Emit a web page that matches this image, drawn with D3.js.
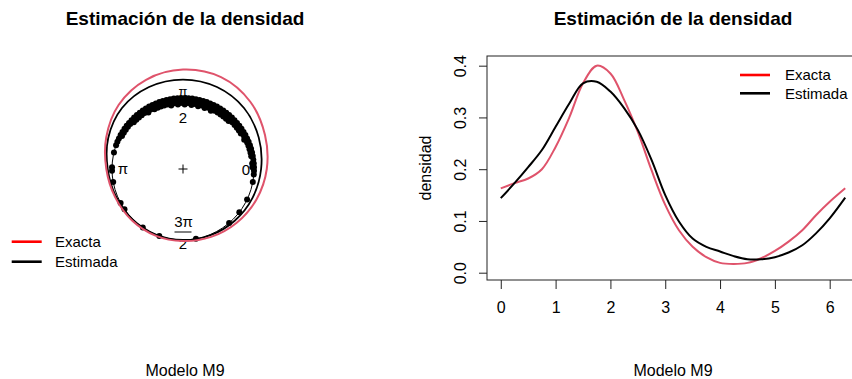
<!DOCTYPE html>
<html>
<head>
<meta charset="utf-8">
<script src="https://cdn.jsdelivr.net/npm/d3@7"></script>
<style>
  html, body { margin: 0; padding: 0; background: #fff; }
  svg { display: block; font-family: "Liberation Sans", Arial, Helvetica, sans-serif; }
</style>
</head>
<body>
<svg id="fig" width="852" height="379"></svg>
<script>
// ---- Data ----------------------------------------------------------------
const titulo = "Estimación de la densidad";
const subtitulo = "Modelo M9";
const series = ["Exacta", "Estimada"];

// Densities on [0, 2π] (linear panel)
const xGrid = [0, 0.25, 0.5, 0.75, 1.0, 1.25, 1.5, 1.75, 2.0, 2.25, 2.5, 2.75, 3.0,
               3.25, 3.5, 3.75, 4.0, 4.25, 4.5, 4.75, 5.0, 5.25, 5.5, 5.75, 6.0, 2 * Math.PI];
const densExacta = [0.163, 0.173, 0.182, 0.200, 0.243, 0.300, 0.366, 0.400, 0.385, 0.334,
                    0.272, 0.198, 0.131, 0.082, 0.050, 0.030, 0.019, 0.017, 0.019, 0.028,
                    0.042, 0.060, 0.082, 0.111, 0.137, 0.163];
const densEstimada = [0.144, 0.173, 0.204, 0.237, 0.282, 0.327, 0.366, 0.369, 0.350, 0.318,
                      0.276, 0.218, 0.150, 0.099, 0.066, 0.050, 0.041, 0.032, 0.026, 0.026,
                      0.030, 0.039, 0.053, 0.076, 0.105, 0.145];
const xTicks = [0, 1, 2, 3, 4, 5, 6];
const yTicks = [0.0, 0.1, 0.2, 0.3, 0.4];

// Circular panel: density drawn as offset above the unit circle
const angGrados = [0, 22.5, 45, 67.5, 90, 112.5, 135, 157.5, 180, 202.5, 225, 247.5, 270, 292.5, 315, 337.5];
const circExacta = [0.18, 0.25, 0.34, 0.40, 0.40, 0.36, 0.28, 0.17, 0.08, 0.035, 0.02, 0.015, 0.015, 0.035, 0.07, 0.12];
const circEstimada = [0.10, 0.155, 0.215, 0.25, 0.26, 0.25, 0.215, 0.14, 0.06, 0.02, 0.005, 0.0, 0.0, 0.01, 0.03, 0.06];

// Sample counts in 3-degree bins (stacked points on the circle)
const frecuencias = [
  2,2,1,2,2,2,2,2,3,2,3,3,
  3,3,3,4,4,4,4,4,4,5,4,5,
  4,5,4,5,4,5,4,5,4,5,4,4,
  4,4,4,3,4,3,3,3,3,3,2,2,
  2,2,2,1,1,1,0,1,0,0,0,1,
  1,0,0,1,0,0,0,0,0,1,0,1,
  0,0,0,0,0,0,1,0,0,0,0,1,
  0,0,0,0,0,0,0,0,0,1,0,0,
  0,0,0,0,0,0,0,1,0,0,0,1,
  0,0,0,1,0,0,0,0,1,0,1,1
];
const anchoBin = 3;

const colExacta = "#DF536B", colEstimada = "#000000";
const colLeyenda = ["#FF0000", "#000000"];

// ---- Drawing -------------------------------------------------------------
const svg = d3.select("#fig");
const FS = 16, FSLEG = 15;

// ---------- Left panel: circular plot ----------
const cx = 183, cy = 169;
const rUnit = d3.scaleLinear().domain([0, 1]).range([0, 71]);
const left = svg.append("g");

left.append("text").attr("x", 185).attr("y", 18).attr("dy", "0.35em")
  .attr("text-anchor", "middle").attr("font-weight", "bold").attr("font-size", 19)
  .text(titulo);
left.append("text").attr("x", 185).attr("y", 370).attr("dy", "0.35em")
  .attr("text-anchor", "middle").attr("font-size", 16).text(subtitulo);

const polar = left.append("g").attr("transform", `translate(${cx},${cy})`);
// unit circle
polar.append("circle").attr("r", rUnit(1)).attr("fill", "none").attr("stroke", "#000").attr("stroke-width", 1);
// centre mark
polar.append("path").attr("d", "M-4.5,0H4.5M0,-4.5V4.5").attr("stroke", "#000").attr("stroke-width", 1);

// stacked sample points
const puntos = [];
frecuencias.forEach((n, i) => {
  const th = (i * anchoBin + anchoBin / 2) * Math.PI / 180;
  for (let j = 0; j < n; j++) puntos.push({ th, r: 1 - j * 0.0225 });
});
polar.selectAll("circle.pt").data(puntos).join("circle").attr("class", "pt")
  .attr("cx", d => rUnit(d.r) * Math.cos(d.th))
  .attr("cy", d => -rUnit(d.r) * Math.sin(d.th))
  .attr("r", 3).attr("fill", "#000");

// axis labels (0, π/2, π, 3π/2)
function lbl(x, y, t, size) {
  polar.append("text").attr("x", x).attr("y", y).attr("dy", "0.35em")
    .attr("text-anchor", "middle").attr("font-size", size || 15).text(t);
}
lbl(63, 1, "0");
lbl(-60, 0, "π");
lbl(0, -78, "π", 13);
polar.append("line").attr("x1", -5).attr("x2", 5).attr("y1", -64).attr("y2", -64).attr("stroke", "#000");
lbl(0, -51.5, "2");
lbl(0.5, 53, "3π");
polar.append("line").attr("x1", -8.5).attr("x2", 8.5).attr("y1", 63).attr("y2", 63).attr("stroke", "#000");
lbl(0, 75, "2");

// circular density curves
const radial = vals => d3.lineRadial()
  .angle((d, i) => Math.PI / 2 - angGrados[i] * Math.PI / 180)
  .radius(d => rUnit(1 + d))
  .curve(d3.curveCatmullRomClosed)(vals);
polar.append("path").attr("d", radial(circEstimada)).attr("fill", "none").attr("stroke", colEstimada).attr("stroke-width", 1.8);
polar.append("path").attr("d", radial(circExacta)).attr("fill", "none").attr("stroke", colExacta).attr("stroke-width", 2);

// left legend
const legL = left.append("g");
series.forEach((s, i) => {
  const y = 241.7 + i * 20;
  legL.append("line").attr("x1", 11.7).attr("x2", 41.7).attr("y1", y).attr("y2", y)
    .attr("stroke", colLeyenda[i]).attr("stroke-width", 2.6);
  legL.append("text").attr("x", 55).attr("y", y).attr("dy", "0.35em").attr("font-size", FSLEG).text(s);
});

// ---------- Right panel: linear plot ----------
const plotL = 487, plotR = 859, plotT = 56, plotB = 280;
const span = 2 * Math.PI;
const x = d3.scaleLinear().domain([-0.04 * span, 1.04 * span]).range([plotL, plotR]);
const y = d3.scaleLinear().domain([-0.0141, 0.4187]).range([plotB, plotT]);
const right = svg.append("g");

right.append("text").attr("x", (plotL + plotR) / 2).attr("y", 18).attr("dy", "0.35em")
  .attr("text-anchor", "middle").attr("font-weight", "bold").attr("font-size", 19).text(titulo);
right.append("text").attr("x", (plotL + plotR) / 2).attr("y", 370).attr("dy", "0.35em")
  .attr("text-anchor", "middle").attr("font-size", 16).text(subtitulo);
right.append("text").attr("transform", `translate(425,${(plotT + plotB) / 2}) rotate(-90)`)
  .attr("dy", "0.35em").attr("text-anchor", "middle").attr("font-size", FS).text("densidad");

// curves
const linea = vals => d3.line().x((d, i) => x(xGrid[i])).y(d => y(d)).curve(d3.curveCatmullRom)(vals);
right.append("path").attr("d", linea(densExacta)).attr("fill", "none").attr("stroke", colExacta).attr("stroke-width", 2);
right.append("path").attr("d", linea(densEstimada)).attr("fill", "none").attr("stroke", colEstimada).attr("stroke-width", 2);

// box
right.append("rect").attr("x", plotL).attr("y", plotT).attr("width", plotR - plotL).attr("height", plotB - plotT)
  .attr("fill", "none").attr("stroke", "#222").attr("stroke-width", 1);

// axes
const gx = right.append("g").attr("transform", `translate(0,${plotB})`)
  .call(d3.axisBottom(x).tickValues(xTicks).tickFormat(d3.format("d")).tickSize(9).tickPadding(12.2));
const gy = right.append("g").attr("transform", `translate(${plotL},0)`)
  .call(d3.axisLeft(y).tickValues(yTicks).tickFormat(d3.format(".1f")).tickSize(8));
[gx, gy].forEach(g => {
  g.select(".domain").remove();
  g.selectAll("line").attr("stroke", "#222");
  g.selectAll("text").attr("font-size", FS).attr("font-family", null).attr("fill", "#000");
});
gy.selectAll("text").attr("x", null).attr("dy", "0.35em").attr("text-anchor", "middle")
  .attr("transform", `translate(${460 - plotL},0) rotate(-90)`);

// right legend
const legR = right.append("g");
series.forEach((s, i) => {
  const yy = 75 + i * 18.3;
  legR.append("line").attr("x1", 740).attr("x2", 770).attr("y1", yy).attr("y2", yy)
    .attr("stroke", colLeyenda[i]).attr("stroke-width", 2.6);
  legR.append("text").attr("x", 785).attr("y", yy).attr("dy", "0.35em").attr("font-size", FSLEG).text(s);
});
</script>
</body>
</html>
